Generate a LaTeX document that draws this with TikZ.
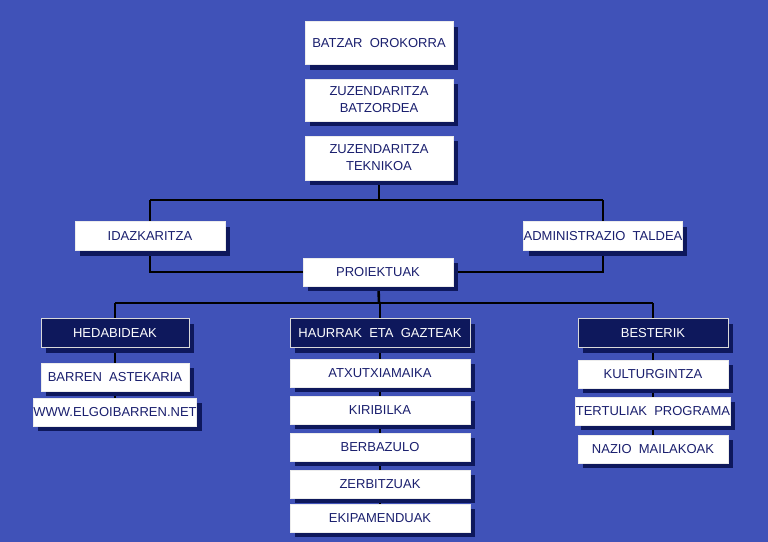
\documentclass[tikz,border=0pt]{standalone}
\usepackage{fontspec}
\setmainfont{Liberation Sans}
\usetikzlibrary{shadows,backgrounds}
\definecolor{bgblue}{RGB}{64,82,184}
\definecolor{navy}{RGB}{14,24,92}
\definecolor{inktext}{RGB}{26,31,110}
\tikzset{
  unit/.style={draw=white!85!gray, fill=white, text=inktext, font=\fontsize{6.5}{7.5}\selectfont,
    align=center, inner sep=0pt, drop shadow={shadow xshift=2.5pt, shadow yshift=-2.5pt, opacity=1, fill=navy}},
  head/.style={unit, fill=navy, draw=white!70!gray, text=white},
  link/.style={line width=1.3pt, black}
}
\begin{document}
\begin{tikzpicture}[x=0.5pt, y=-0.5pt]
% top chain
\node[unit, minimum width=74pt, minimum height=21.5pt] (batzar) at (379,43) {BATZAR\ \ OROKORRA};
\node[unit, minimum width=74pt, minimum height=21pt] (batzordea) at (379,100) {ZUZENDARITZA\\[1pt]BATZORDEA};
\node[unit, minimum width=74pt, minimum height=22pt] (teknikoa) at (379,158) {ZUZENDARITZA\\[1pt]TEKNIKOA};
\node[unit, minimum width=75pt, minimum height=14.5pt] (idazkaritza) at (150,236) {IDAZKARITZA};
\node[unit, minimum width=77pt, minimum height=14.5pt] (admin) at (603,236) {ADMINISTRAZIO\ \ TALDEA};
\node[unit, minimum width=75pt, minimum height=14pt] (proiektuak) at (378,272) {PROIEKTUAK};
% column heads
\node[head, minimum width=74pt, minimum height=14.5pt] (hedabideak) at (115,333) {HEDABIDEAK};
\node[head, minimum width=90pt, minimum height=14.5pt] (haurrak) at (380,333) {HAURRAK\ \ ETA\ \ GAZTEAK};
\node[head, minimum width=75pt, minimum height=14.5pt] (besterik) at (653,333) {BESTERIK};
% column items
\foreach \y/\t/\n in {377/BARREN\ \ ASTEKARIA/astekaria, 412/WWW.ELGOIBARREN.NET/web}
  \node[unit, minimum width=74pt, minimum height=14pt] (\n) at (115,\y) {\t};
\foreach \y/\t/\n in {373/ATXUTXIAMAIKA/atxutxi, 410/KIRIBILKA/kiribilka, 447/BERBAZULO/berbazulo,
    484/ZERBITZUAK/zerbitzuak, 518/EKIPAMENDUAK/ekipamenduak}
  \node[unit, minimum width=90pt, minimum height=14pt] (\n) at (380,\y) {\t};
\foreach \y/\t/\n in {374/KULTURGINTZA/kulturgintza, 411/TERTULIAK\ \ PROGRAMA/tertuliak, 449/NAZIO\ \ MAILAKOAK/nazio}
  \node[unit, minimum width=75pt, minimum height=14pt] (\n) at (653,\y) {\t};
% lines behind the boxes
\begin{scope}[on background layer]
\fill[bgblue] (0,0) rectangle (768,542);
\coordinate (top) at (379,200);
\coordinate (mid) at (379,303);
\draw[link] (teknikoa) -- (top);
\draw[link] (top -| idazkaritza) -- (top -| admin);
\draw[link] (top -| idazkaritza) |- (proiektuak) -| (top -| admin);
\draw[link] (proiektuak) -- (mid);
\draw[link] (mid -| hedabideak) -- (mid -| besterik);
\draw[link] (mid -| hedabideak) -- (web);
\draw[link] (mid -| haurrak) -- (ekipamenduak);
\draw[link] (mid -| besterik) -- (nazio);
\end{scope}
\end{tikzpicture}
\end{document}
